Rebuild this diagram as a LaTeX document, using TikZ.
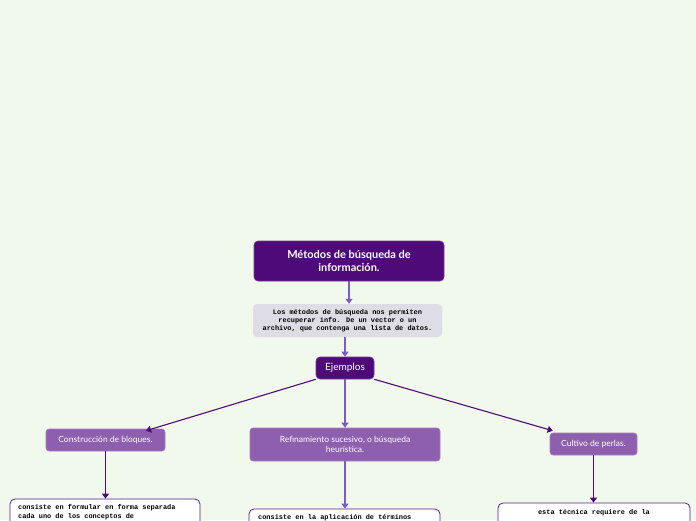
\documentclass[tikz,border=0pt]{standalone}
\usepackage{fontspec}
\setmainfont{Lato}
\newfontfamily\monof{Liberation Mono}
\usetikzlibrary{arrows.meta,calc}
\definecolor{bgc}{HTML}{F0F9EC}
\definecolor{darkp}{HTML}{4E0A78}
\definecolor{midp}{HTML}{8D5FAE}
\definecolor{arrowp}{HTML}{7A5CC6}
\definecolor{descg}{HTML}{DEDCE5}
\definecolor{boxb}{HTML}{5C1A8C}
\tikzset{
  titlebox/.style={draw=darkp!80!white, line width=0.6pt, fill=darkp, rounded corners=4pt, text=white, align=center, inner sep=2pt},
  subbox/.style={draw=midp!80!white, line width=0.6pt, fill=midp, rounded corners=3pt, text=white, align=center, inner sep=2pt, font=\fontsize{8.5}{10}\selectfont},
  descbox/.style={fill=descg, rounded corners=4pt, align=center, inner sep=2pt, font=\monof\bfseries\fontsize{6.9}{8.2}\selectfont},
  leafbox/.style={draw=boxb, line width=0.8pt, fill=white, rounded corners=5pt},
  leaftext/.style={inner sep=0pt, font=\monof\bfseries\fontsize{6.9}{8.2}\selectfont},
  darr/.style={draw=darkp, line width=1.1pt, -{Triangle[width=7pt,length=5pt]}},
  marr/.style={draw=arrowp, line width=1.1pt, -{Triangle[width=7pt,length=5pt]}}
}
\begin{document}
\begin{tikzpicture}[x=1pt,y=-1pt]
\clip (0,0) rectangle (696,520);
\fill[bgc] (0,0) rectangle (696,520);
\node[titlebox, minimum width=190pt, minimum height=40pt, font=\bfseries\fontsize{11}{13}\selectfont] (title) at (349,261) {Métodos de búsqueda de\\información.};
\node[descbox, minimum width=189pt, minimum height=33pt] (desc) at (347.5,320.5) {Los métodos de búsqueda nos permiten\\recuperar info. De un vector o un\\archivo, que contenga una lista de datos.};
\node[titlebox, minimum width=58pt, minimum height=22pt, font=\fontsize{10}{12}\selectfont] (ej) at (345,368) {Ejemplos};
\node[subbox, minimum width=119pt, minimum height=22pt] (cons) at (105.5,440) {Construcción de bloques.};
\node[subbox, minimum width=190pt, minimum height=33pt] (ref) at (345,444.5) {Refinamiento sucesivo, o búsqueda\\heurística.};
\node[subbox, minimum width=87pt, minimum height=22pt] (cult) at (593.5,444) {Cultivo de perlas.};
\node[leafbox, minimum width=190pt, minimum height=62pt] (b1) at (105,530) {};
\node[leafbox, minimum width=191pt, minimum height=62pt] (b2) at (344.5,540) {};
\node[leafbox, minimum width=192pt, minimum height=64pt] (b3) at (594,535) {};
\node[leaftext, anchor=north west, align=left] (t1) at (18,504.5) {consiste en formular en forma separada\\cada uno de los conceptos de};
\node[leaftext, anchor=north west, align=left] (t2) at (258,514.5) {consiste en la aplicación de términos};
\node[leaftext, anchor=north] (t3) at (594,509) {esta técnica requiere de la};
\draw[marr] (title.south) -- (title.south |- desc.north);
\draw[marr] (desc.south -| ej.north) -- (ej.north);
\draw[darr] (ej.south west) -- ([xshift=40.5pt,yshift=-2pt]cons.north);
\draw[marr] (ej.south) -- (ref.north);
\draw[darr] (ej.south east) -- ([xshift=3pt,yshift=2pt]cult.north west);
\draw[darr] (cons.south) -- (cons.south |- b1.north);
\draw[marr] (ref.south) -- (ref.south |- b2.north);
\draw[darr] (cult.south) -- (cult.south |- b3.north);
\end{tikzpicture}
\end{document}
